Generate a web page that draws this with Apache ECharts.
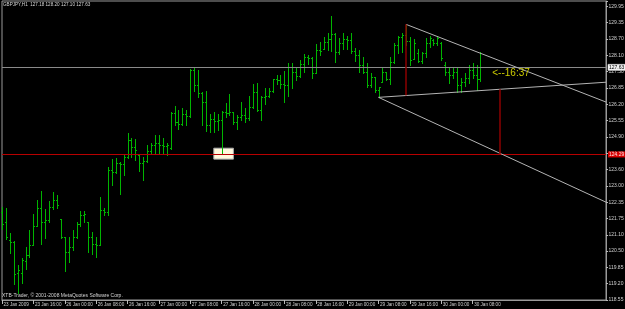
<!DOCTYPE html>
<html><head><meta charset="utf-8">
<script src="https://cdn.jsdelivr.net/npm/echarts@6/dist/echarts.min.js"></script>
<style>html,body{margin:0;padding:0;background:#000;}#c{width:625px;height:309px;}</style>
</head><body><div id="c"></div>
<script>
// ---- data (GBPJPY H1, 23 Jan 2009 08:00 -> 30 Jan 2009 10:00) ----
const chartTitle = 'GBPJPY,H1  127.18 128.20 127.10 127.63';
const copyrightText = 'XTB-Trader, \u00a9 2001-2008 MetaQuotes Software Corp.';
const opens = [122.07,121.69,121.00,120.92,119.73,119.73,120.19,120.42,120.81,121.54,
122.23,121.69,121.77,122.27,122.54,121.80,121.11,120.54,120.73,121.11,
121.61,121.96,121.69,121.11,120.85,120.81,122.15,122.08,123.69,123.61,
123.96,123.92,124.18,124.84,124.57,124.26,123.96,124.03,124.42,124.65,
124.71,124.67,124.61,124.53,125.87,125.53,125.45,125.84,125.76,127.53,
126.95,126.64,126.30,125.41,125.64,125.57,125.61,125.91,125.87,125.91,
125.53,125.72,125.80,125.68,126.11,126.68,125.99,126.49,126.53,126.73,
127.17,127.14,126.99,126.95,127.63,127.46,127.30,127.76,128.01,127.97,
127.42,128.29,128.33,128.59,128.70,128.91,128.23,128.55,128.70,128.68,
128.27,128.10,127.72,127.46,126.95,127.27,126.76,127.08,127.46,127.17,
127.85,128.49,128.78,128.87,128.64,127.94,128.19,127.88,128.19,128.55,
128.68,128.55,128.55,127.72,127.45,127.33,127.45,126.95,127.06,127.21,
127.53,127.33,127.18];
const highs = [122.28,122.22,121.27,120.97,120.04,120.31,120.74,121.38,121.99,122.54,
122.89,122.19,122.50,122.85,122.73,121.83,121.13,121.13,121.38,121.70,
122.13,122.13,121.70,121.32,121.13,122.64,122.25,123.81,124.10,124.14,
124.01,124.29,125.10,124.94,124.90,124.26,124.20,124.65,124.71,125.03,
125.03,124.94,124.71,125.93,126.16,125.99,126.06,125.99,127.56,127.59,
127.53,126.69,126.73,125.86,125.93,125.84,125.95,126.25,126.60,125.93,
125.80,126.30,126.08,126.53,126.99,127.04,126.53,126.82,126.82,127.18,
127.33,127.33,127.50,127.81,127.78,127.59,127.91,128.13,128.10,128.04,
128.52,128.61,128.78,128.93,129.60,128.93,128.74,128.93,128.83,128.93,
128.36,128.29,128.04,127.78,127.42,127.27,126.89,127.63,127.46,128.04,
128.55,128.83,128.96,129.28,128.78,128.70,128.32,128.23,128.74,128.83,
128.70,128.83,128.61,127.83,127.59,127.63,127.59,127.21,127.40,127.72,
127.78,127.72,128.20];
const lows = [121.45,121.03,120.51,119.34,118.98,119.36,119.91,120.34,120.81,121.54,
120.85,121.10,121.70,122.18,122.25,121.07,119.82,120.17,120.64,121.10,
121.54,121.70,120.55,120.46,120.34,120.81,121.96,121.96,123.11,123.58,
122.77,123.49,124.14,124.20,124.07,123.66,123.30,124.01,124.29,124.29,
124.35,124.30,124.26,124.48,125.41,125.26,125.41,125.41,125.71,126.73,
126.50,125.41,125.20,125.16,125.16,125.22,124.33,125.73,125.80,125.45,
125.25,125.61,125.54,125.63,126.06,125.96,125.63,126.22,126.48,126.69,
126.99,126.82,126.31,126.53,126.82,127.14,127.27,127.46,127.76,127.21,
127.40,128.10,128.32,128.29,128.27,127.84,128.14,128.32,128.32,128.17,
127.88,127.46,127.42,126.89,126.89,126.69,126.48,127.08,127.14,126.99,
127.81,128.17,128.23,128.49,127.72,127.94,127.85,127.81,128.04,128.42,
128.49,128.49,127.91,127.33,127.02,127.21,126.69,126.69,126.91,127.04,
127.21,126.76,127.10];
const closes = [121.61,121.12,120.92,119.72,119.85,120.23,120.42,120.81,121.54,122.23,
121.69,121.77,122.27,122.54,122.34,121.11,120.54,120.73,121.11,121.61,
121.96,122.00,121.11,120.85,120.81,122.15,122.08,123.69,123.61,123.96,
123.92,124.18,124.84,124.57,124.46,123.96,124.03,124.42,124.65,124.71,
124.67,124.61,124.67,125.87,125.53,125.45,125.84,125.76,127.53,126.95,
126.64,126.30,125.41,125.64,125.57,125.61,125.91,125.87,125.91,125.53,
125.72,125.80,125.68,126.11,126.68,125.99,126.49,126.53,126.73,127.17,
127.14,126.99,126.95,127.63,127.46,127.30,127.76,128.01,127.97,127.42,
128.29,128.27,128.59,128.70,128.91,128.23,128.55,128.70,128.68,128.27,
128.10,127.72,127.46,126.95,127.27,126.76,126.86,127.46,127.17,127.85,
128.49,128.78,128.87,128.64,127.91,128.55,127.88,128.19,128.55,128.74,
128.55,128.74,127.99,127.45,127.33,127.45,126.95,127.06,127.21,127.53,
127.33,127.18,127.63];
const xTickLabels = ['23 Jan 2009','23 Jan 16:00','26 Jan 00:00','26 Jan 08:00','26 Jan 16:00',
'27 Jan 00:00','27 Jan 08:00','27 Jan 16:00','28 Jan 00:00','28 Jan 08:00','28 Jan 16:00',
'29 Jan 00:00','29 Jan 08:00','29 Jan 16:00','30 Jan 00:00','30 Jan 08:00'];
const barsPerLabel = 8;
const totalSlots = 155; // bars + empty right margin
// right price scale labels, bottom -> top
const yTickLabels = ['118.55','119.20','119.85','120.50','121.10','121.75','122.35','123.00','123.60',
'124.25','124.90','125.55','126.20','126.85','127.50','128.10','128.70','129.35','129.95'];
const bidPrice = 127.63;
const redLevel = 124.29;
// drawn objects, as [bar index, price]
const upperTrend = [[103, 129.28], [154, 126.30]];
const risingTrend = [[96, 126.48], [154, 127.06]];
const fallingTrend = [[96, 126.48], [154, 122.46]];
const redVertical1 = [[103, 129.28], [103, 126.55]];
const redVertical2 = [[127, 126.79], [127, 124.29]];
const noteBox = [[54, 124.53], [59, 124.11]];
const timerText = '<--16:37';
const timerAnchor = [125, 127.42];

// ---- chart ----
const categories = [];
for (let i = 0; i < totalSlots; i++) categories.push(String(i));
const ohlc = opens.map((o, i) => [i, o, highs[i], lows[i], closes[i]]);
const barColor = '#00b400';
const FONT = '"Liberation Sans", Arial, sans-serif';

function renderOHLC(params, api) {
  const x = api.value(0);
  const pO = api.coord([x, api.value(1)]);
  const pH = api.coord([x, api.value(2)]);
  const pL = api.coord([x, api.value(3)]);
  const pC = api.coord([x, api.value(4)]);
  const cx = Math.round(pH[0]) + 0.5;
  const t = 1.5;
  const st = { stroke: barColor, lineWidth: 1 };
  const yo = Math.round(pO[1]) + 0.5, yc = Math.round(pC[1]) + 0.5;
  return { type: 'group', children: [
    { type: 'line', shape: { x1: cx, y1: Math.round(pH[1]), x2: cx, y2: Math.round(pL[1]) + 1 }, style: st },
    { type: 'line', shape: { x1: cx - t, y1: yo, x2: cx, y2: yo }, style: st },
    { type: 'line', shape: { x1: cx, y1: yc, x2: cx + t, y2: yc }, style: st }
  ]};
}
function seg(pts, color, w) {
  return [{ coord: pts[0], lineStyle: { color: color, width: w, type: 'solid' } }, { coord: pts[1] }];
}
const labelIdx = (i) => i % barsPerLabel === 0 && i / barsPerLabel < xTickLabels.length;

const chart = echarts.init(document.getElementById('c'), null, { renderer: 'canvas' });
chart.setOption({
  backgroundColor: '#000000',
  animation: false,
  textStyle: { fontFamily: FONT },
  grid: { left: 2, right: 19, top: 1, bottom: 9, containLabel: false, outerBoundsMode: 'none',
          show: true, borderColor: '#9a9a9a', borderWidth: 1, backgroundColor: 'transparent' },
  xAxis: {
    type: 'category', data: categories, boundaryGap: false,
    axisLine: { show: true, lineStyle: { color: '#9a9a9a', width: 1 } },
    axisTick: { show: true, interval: labelIdx, length: 4, lineStyle: { color: '#bbbbbb' } },
    axisLabel: { show: true, interval: labelIdx, margin: 2, align: 'left', padding: [0, 0, 0, 1.5],
      color: '#d0d0d0', fontSize: 4.6, fontFamily: FONT,
      formatter: (v, i) => xTickLabels[Math.round(i / barsPerLabel)] || '' },
    splitLine: { show: false }
  },
  yAxis: [
    { type: 'value', min: 118.708, max: 130.175, show: false, splitLine: { show: false } },
    { type: 'value', min: 0, max: 18.33, interval: 1, position: 'right',
      axisLine: { show: true, lineStyle: { color: '#9a9a9a', width: 1 } },
      axisTick: { show: true, length: 2, lineStyle: { color: '#bbbbbb' } },
      axisLabel: { show: true, margin: 2.5, color: '#d0d0d0', fontSize: 5, fontFamily: FONT,
        formatter: (v) => (Math.abs(v - Math.round(v)) < 1e-6 ? (yTickLabels[Math.round(v)] || '') : '') },
      splitLine: { show: false } }
  ],
  series: [
    { name: 'box', type: 'line', data: [], z: 1, silent: true,
      markArea: { silent: true,
        itemStyle: { color: '#fff8dc', borderColor: '#a8a8a8', borderWidth: 1 },
        data: [[{ coord: noteBox[0] }, { coord: noteBox[1] }]] } },
    { name: 'GBPJPY', type: 'custom', renderItem: renderOHLC, data: ohlc, z: 3,
      encode: { x: 0, y: [1, 2, 3, 4] } },
    { name: 'objects', type: 'line', data: [], z: 4, silent: true,
      markLine: { silent: true, symbol: ['none', 'none'], label: { show: false },
        data: [
          { yAxis: bidPrice, lineStyle: { color: '#8a8a8a', width: 1, type: 'solid' },
            label: { show: true, position: 'end', distance: 2, formatter: String(bidPrice.toFixed(2)),
              color: '#000', backgroundColor: '#f2f2f2', borderColor: '#888', borderWidth: 0.5,
              padding: [1, 1, 0, 1], fontSize: 5, fontFamily: FONT } },
          { yAxis: redLevel, lineStyle: { color: '#b80000', width: 1, type: 'solid' },
            label: { show: true, position: 'end', distance: 2, formatter: String(redLevel.toFixed(2)),
              color: '#ffe0e0', backgroundColor: '#d80000', padding: [1, 1, 0, 1], fontSize: 5, fontFamily: FONT } },
          seg(upperTrend, '#b4b4b4', 1),
          seg(risingTrend, '#b4b4b4', 1),
          seg(fallingTrend, '#b4b4b4', 1),
          seg(redVertical1, '#8c0000', 1.5),
          seg(redVertical2, '#8c0000', 1.5)
        ] },
      markPoint: { silent: true, symbol: 'rect', symbolSize: 0,
        data: [{ coord: timerAnchor, label: { show: true, position: 'right', distance: 0,
          formatter: timerText, color: '#cccc00', fontSize: 10, fontFamily: FONT } }] } }
  ],
  graphic: [
    { type: 'text', left: 3, top: 2.5, silent: true,
      style: { text: chartTitle, fill: '#d6d6d6', font: '4.6px ' + FONT } },
    { type: 'text', left: 2, top: 293, silent: true,
      style: { text: copyrightText, fill: '#d6d6d6', font: '5px ' + FONT } }
  ]
});
</script></body></html>
